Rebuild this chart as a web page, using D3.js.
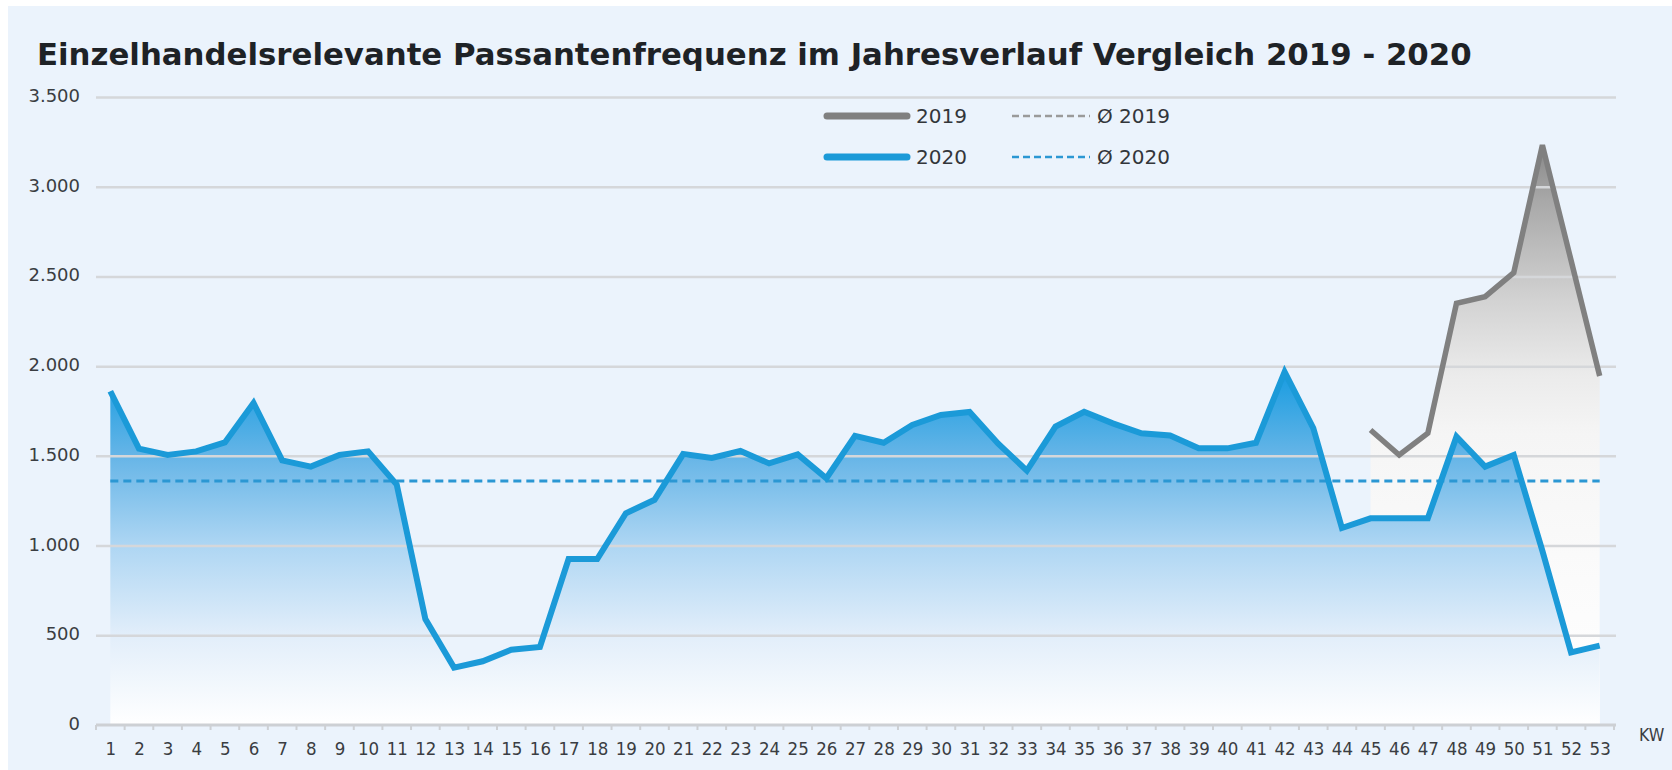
<!DOCTYPE html>
<html>
<head>
<meta charset="utf-8">
<script src="https://cdn.jsdelivr.net/npm/d3@7"></script>
<style>
  html, body { margin: 0; padding: 0; background: #ffffff; }
  svg { display: block; }
</style>
</head>
<body>
<script>
// values (Kalenderwoche -> Passanten)
const weeks = [1, 2, 3, 4, 5, 6, 7, 8, 9, 10, 11, 12, 13, 14, 15, 16, 17, 18, 19, 20,
  21, 22, 23, 24, 25, 26, 27, 28, 29, 30, 31, 32, 33, 34, 35, 36, 37, 38, 39, 40,
  41, 42, 43, 44, 45, 46, 47, 48, 49, 50, 51, 52, 53];
const values2020 = [1860, 1540, 1505, 1525, 1575, 1795, 1475, 1440, 1505, 1525,
  1340, 590, 320, 355, 420, 435, 925, 925, 1180, 1255,
  1510, 1488, 1527, 1458, 1508, 1375, 1611, 1573, 1672, 1728,
  1745, 1568, 1418, 1663, 1746, 1681, 1626, 1614, 1542, 1542,
  1573, 1968, 1655, 1098, 1152, 1152, 1152, 1607, 1440, 1505,
  970, 405, 442];
const weeks2019 = [45, 46, 47, 48, 49, 50, 51, 52, 53];
const values2019 = [1644, 1505, 1626, 2350, 2387, 2521, 3232, 2590, 1945];
const avg2020 = 1360;
const yTicks = [0, 500, 1000, 1500, 2000, 2500, 3000, 3500];
const title = "Einzelhandelsrelevante Passantenfrequenz im Jahresverlauf Vergleich 2019 - 2020";
const legendItems = [
  { label: "2019", color: "#808080", dashed: false, col: 0, row: 0 },
  { label: "Ø 2019", color: "#9a9a9a", dashed: true, col: 1, row: 0 },
  { label: "2020", color: "#1b9ad8", dashed: false, col: 0, row: 1 },
  { label: "Ø 2020", color: "#2b97d3", dashed: true, col: 1, row: 1 }
];

const width = 1672, height = 770;
const font = "'DejaVu Sans', Verdana, sans-serif";
const condensed = "'DejaVu Sans Condensed', 'DejaVu Sans', sans-serif";
const de = d3.formatLocale({ decimal: ",", thousands: ".", grouping: [3], currency: ["", "€"] });
const fmt = de.format(",");

const svg = d3.select("body").append("svg")
  .attr("width", width)
  .attr("height", height);

svg.append("rect")
  .attr("x", 8).attr("y", 6)
  .attr("width", width - 8).attr("height", height - 6)
  .attr("fill", "#ebf3fc");

const x = d3.scalePoint().domain(weeks).range([96, 1614]).padding(0.5);
const y = d3.scaleLinear().domain([0, 3500]).range([725, 97]);

// gradients
const defs = svg.append("defs");
const blue = defs.append("linearGradient").attr("id", "g2020")
  .attr("gradientUnits", "userSpaceOnUse")
  .attr("x1", 0).attr("x2", 0).attr("y1", y(2000)).attr("y2", y(0));
[["0", "#129ae0"], ["0.25", "#66b5e7"], ["0.5", "#aed6f3"], ["0.75", "#e2eefa"], ["1", "#ffffff"]]
  .forEach(([o, c]) => blue.append("stop").attr("offset", o).attr("stop-color", c));
const gray = defs.append("linearGradient").attr("id", "g2019")
  .attr("gradientUnits", "userSpaceOnUse")
  .attr("x1", 0).attr("x2", 0).attr("y1", y(3250)).attr("y2", y(0));
[["0", "#858585"], ["0.1", "#a8a8a8"], ["0.27", "#d2d2d2"], ["0.4", "#ebebeb"], ["0.5", "#f5f5f5"], ["0.75", "#fbfbfb"], ["1", "#ffffff"]]
  .forEach(([o, c]) => gray.append("stop").attr("offset", o).attr("stop-color", c));

const area = d3.area().x(d => x(d[0])).y0(y(0)).y1(d => y(d[1]));
const line = d3.line().x(d => x(d[0])).y(d => y(d[1]));
const data2020 = weeks.map((w, i) => [w, values2020[i]]);
const data2019 = weeks2019.map((w, i) => [w, values2019[i]]);

svg.append("path").attr("d", area(data2019)).attr("fill", "url(#g2019)");
svg.append("path").attr("d", area(data2020)).attr("fill", "url(#g2020)");

// y axis + gridlines
const yAxis = svg.append("g")
  .attr("transform", "translate(96,0)")
  .call(d3.axisLeft(y).tickValues(yTicks.filter(t => t > 0)).tickFormat(fmt)
    .tickSize(-(1616 - 96)).tickPadding(16));
yAxis.select(".domain").remove();
yAxis.selectAll(".tick line").attr("stroke", "#d5d7da").attr("stroke-width", 2.5);
yAxis.selectAll(".tick text")
  .attr("font-family", font).attr("font-size", 18).attr("fill", "#3a3d42").attr("dy", "0.25em");

// zero label
svg.append("text")
  .attr("x", 80).attr("y", y(0)).attr("dy", "0.25em")
  .attr("text-anchor", "end")
  .attr("font-family", font).attr("font-size", 18).attr("fill", "#3a3d42")
  .text(fmt(yTicks[0]));

// x axis
svg.append("line")
  .attr("x1", 96).attr("x2", 1616).attr("y1", y(0)).attr("y2", y(0))
  .attr("stroke", "#cdd0d4").attr("stroke-width", 3);
svg.append("g").selectAll("line")
  .data(weeks.concat([weeks.length + 1]))
  .join("line")
  .attr("x1", w => (w <= weeks.length ? x(w) : x(weeks.length) + x.step()) - x.step() / 2)
  .attr("x2", w => (w <= weeks.length ? x(w) : x(weeks.length) + x.step()) - x.step() / 2)
  .attr("y1", y(0)).attr("y2", y(0) + 5)
  .attr("stroke", "#cdd0d4").attr("stroke-width", 2);

const xAxis = svg.append("g")
  .attr("transform", `translate(0,${y(0)})`)
  .call(d3.axisBottom(x).tickSize(0).tickPadding(17));
xAxis.select(".domain").remove();
xAxis.selectAll(".tick text")
  .attr("font-family", condensed)
  .attr("font-size", 18.5).attr("fill", "#3a3d42");

svg.append("text")
  .attr("x", 1639).attr("y", 741)
  .attr("font-family", condensed)
  .attr("font-size", 17.5).attr("fill", "#3a3d42")
  .text("KW");

// average 2020
svg.append("line")
  .attr("x1", x(weeks[0])).attr("x2", x(weeks[weeks.length - 1]))
  .attr("y1", y(avg2020)).attr("y2", y(avg2020))
  .attr("stroke", "#2b97d3").attr("stroke-width", 3)
  .attr("stroke-dasharray", "8,5");

// lines
svg.append("path").attr("d", line(data2019))
  .attr("fill", "none").attr("stroke", "#808080").attr("stroke-width", 5.5);
svg.append("path").attr("d", line(data2020))
  .attr("fill", "none").attr("stroke", "#1b9ad8").attr("stroke-width", 6);

// title
svg.append("text")
  .attr("x", 37).attr("y", 65)
  .attr("font-family", font).attr("font-weight", "bold")
  .attr("font-size", 30.8).attr("fill", "#1e2226")
  .text(title);

// legend
const legend = svg.append("g");
const lg = legend.selectAll("g").data(legendItems).join("g")
  .attr("transform", d => `translate(${d.col === 0 ? 827 : 1012},${d.row === 0 ? 116 : 157})`);
lg.append("line")
  .attr("x1", 0).attr("x2", d => d.dashed ? 78 : 80)
  .attr("y1", 0).attr("y2", 0)
  .attr("stroke", d => d.color)
  .attr("stroke-width", d => d.dashed ? 2.5 : 7)
  .attr("stroke-linecap", d => d.dashed ? "butt" : "round")
  .attr("stroke-dasharray", d => d.dashed ? "7,4" : null);
lg.append("text")
  .attr("x", d => d.dashed ? 85 : 89)
  .attr("y", 0).attr("dy", "0.36em")
  .attr("font-family", font).attr("font-size", 20).attr("fill", "#33363a")
  .text(d => d.label);
</script>
</body>
</html>
